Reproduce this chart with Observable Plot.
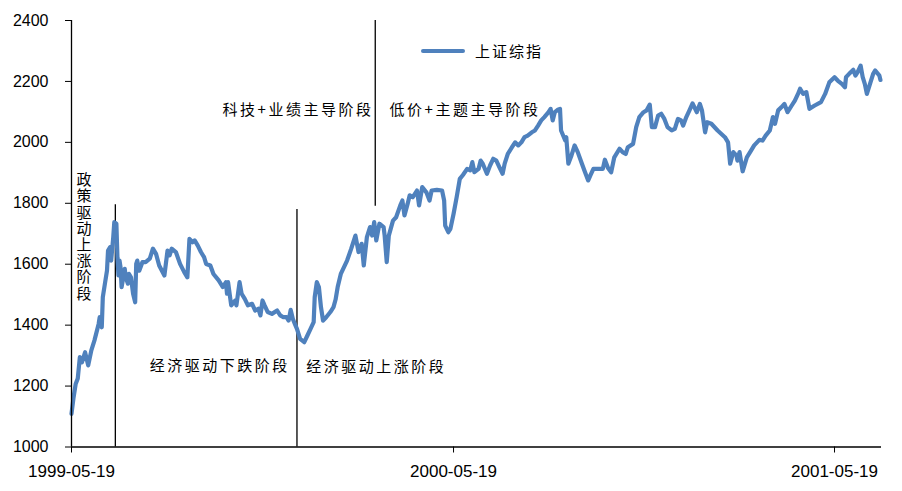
<!DOCTYPE html>
<html>
<head>
<meta charset="utf-8">
<script src="https://cdn.jsdelivr.net/npm/d3@7"></script>
<script src="https://cdn.jsdelivr.net/npm/@observablehq/plot@0.6"></script>
<style>
  html, body { margin: 0; padding: 0; background: #fff; }
  #wrap { position: relative; width: 902px; height: 491px; }
  #wrap svg { display: block; }
  g[aria-label^="x-axis"] text { font-size: 17px; }
  g[aria-label^="y-axis"] text { font-size: 16px; }
  g[aria-label="text"] text { letter-spacing: 2.5px; }
  g[aria-label="text"] text.vertical { writing-mode: vertical-rl; letter-spacing: 1.2px; }
  #legend { position: absolute; left: 421px; top: 40px; display: flex; align-items: center;
    font-family: "Noto Sans CJK SC", sans-serif; font-size: 15px; letter-spacing: 2px; color: #000; }
  #legend .sw { display: inline-block; width: 44px; height: 4px; border-radius: 2px; background: #4F81BD; margin-right: 10px; }
</style>
</head>
<body>
<div id="wrap"><div id="legend"><span class="sw"></span><span>上证综指</span></div></div>
<script>
const seriesName = "上证综指";
const dates = [
"1999-05-19","1999-05-21","1999-05-23","1999-05-25","1999-05-27","1999-05-29","1999-06-01","1999-06-04","1999-06-07","1999-06-10",
"1999-06-14","1999-06-15","1999-06-17","1999-06-18","1999-06-20","1999-06-22","1999-06-23","1999-06-25","1999-06-26","1999-06-28",
"1999-06-29","1999-07-01","1999-07-02","1999-07-03","1999-07-04","1999-07-05","1999-07-06","1999-07-09","1999-07-10","1999-07-12",
"1999-07-13","1999-07-15","1999-07-17","1999-07-19","1999-07-20","1999-07-21","1999-07-23","1999-07-26","1999-07-29","1999-08-02",
"1999-08-05","1999-08-08","1999-08-11","1999-08-16","1999-08-19","1999-08-21","1999-08-23","1999-08-27","1999-08-31","1999-09-04",
"1999-09-07","1999-09-09","1999-09-12","1999-09-14","1999-09-17","1999-09-20","1999-09-23","1999-09-25","1999-09-29","1999-10-02",
"1999-10-07","1999-10-11","1999-10-14","1999-10-15","1999-10-16","1999-10-19","1999-10-23","1999-10-24","1999-10-27","1999-10-29",
"1999-11-01","1999-11-04","1999-11-08","1999-11-11","1999-11-14","1999-11-16","1999-11-18","1999-11-20","1999-11-23","1999-11-27",
"1999-12-02","1999-12-05","1999-12-08","1999-12-11","1999-12-13","1999-12-15","1999-12-17","1999-12-19","1999-12-21","1999-12-24",
"1999-12-28","1999-12-31","2000-01-03","2000-01-06","2000-01-07","2000-01-09","2000-01-11","2000-01-13","2000-01-15","2000-01-18",
"2000-01-22","2000-01-25","2000-01-27","2000-01-29","2000-02-01","2000-02-07","2000-02-11","2000-02-15","2000-02-18","2000-02-21",
"2000-02-23","2000-02-26","2000-02-29","2000-03-02","2000-03-04","2000-03-06","2000-03-09","2000-03-13","2000-03-14","2000-03-16",
"2000-03-18","2000-03-22","2000-03-25","2000-03-29","2000-03-31","2000-04-02","2000-04-05","2000-04-07","2000-04-10","2000-04-14",
"2000-04-16","2000-04-19","2000-04-23","2000-04-26","2000-04-28","2000-05-03","2000-05-08","2000-05-10","2000-05-11","2000-05-14",
"2000-05-16","2000-05-19","2000-05-22","2000-05-25","2000-05-28","2000-06-01","2000-06-04","2000-06-06","2000-06-08","2000-06-12",
"2000-06-14","2000-06-16","2000-06-20","2000-06-23","2000-06-26","2000-06-29","2000-07-02","2000-07-05","2000-07-07","2000-07-10",
"2000-07-14","2000-07-17","2000-07-20","2000-07-23","2000-07-26","2000-07-29","2000-08-02","2000-08-05","2000-08-08","2000-08-11",
"2000-08-14","2000-08-18","2000-08-20","2000-08-22","2000-08-24","2000-08-27","2000-08-29","2000-08-30","2000-09-03","2000-09-04",
"2000-09-06","2000-09-09","2000-09-12","2000-09-15","2000-09-19","2000-09-22","2000-09-25","2000-09-27","2000-09-30","2000-10-05",
"2000-10-09","2000-10-11","2000-10-14","2000-10-17","2000-10-20","2000-10-25","2000-10-28","2000-10-31","2000-11-02","2000-11-07",
"2000-11-10","2000-11-13","2000-11-17","2000-11-20","2000-11-23","2000-11-25","2000-11-28","2000-12-01","2000-12-04","2000-12-07",
"2000-12-10","2000-12-14","2000-12-17","2000-12-20","2000-12-23","2000-12-25","2000-12-28","2000-12-31","2001-01-03","2001-01-07",
"2001-01-10","2001-01-12","2001-01-15","2001-01-17","2001-01-21","2001-01-27","2001-02-03","2001-02-06","2001-02-08","2001-02-11",
"2001-02-14","2001-02-15","2001-02-17","2001-02-20","2001-02-24","2001-02-28","2001-03-03","2001-03-08","2001-03-11","2001-03-14",
"2001-03-18","2001-03-21","2001-03-23","2001-03-26","2001-03-29","2001-04-01","2001-04-04","2001-04-08","2001-04-11","2001-04-14",
"2001-04-16","2001-04-19","2001-04-22","2001-04-25","2001-04-30","2001-05-06","2001-05-10","2001-05-14","2001-05-19","2001-05-22",
"2001-05-26","2001-05-29","2001-05-30","2001-06-02","2001-06-06","2001-06-08","2001-06-10","2001-06-13","2001-06-15","2001-06-17",
"2001-06-19","2001-06-22","2001-06-25","2001-06-27","2001-07-01","2001-07-02"
];
const values = [
1109,1163,1207,1225,1295,1278,1311,1268,1317,1350,
1404,1426,1393,1492,1536,1579,1645,1656,1612,1689,
1738,1733,1623,1563,1612,1590,1525,1585,1557,1536,
1568,1557,1503,1475,1601,1612,1579,1607,1607,1618,
1651,1634,1596,1563,1645,1629,1651,1640,1601,1574,
1557,1683,1672,1678,1661,1640,1623,1601,1596,1568,
1547,1525,1541,1503,1541,1465,1481,1465,1541,1503,
1486,1465,1470,1448,1454,1432,1481,1465,1443,1437,
1448,1432,1426,1426,1415,1450,1421,1404,1388,1355,
1344,1366,1388,1410,1492,1541,1525,1459,1415,1426,
1443,1459,1484,1525,1568,1612,1651,1694,1640,1667,
1596,1689,1722,1694,1738,1678,1733,1722,1694,1607,
1694,1743,1754,1793,1809,1760,1798,1826,1820,1842,
1793,1853,1836,1809,1842,1844,1842,1809,1727,1705,
1716,1765,1820,1880,1893,1913,1908,1935,1902,1913,
1940,1930,1897,1924,1946,1940,1918,1897,1930,1962,
1984,2000,1990,2000,2017,2022,2033,2039,2055,2072,
2083,2099,2110,2072,2099,2107,2110,2039,2006,2017,
1930,1957,1990,1968,1930,1902,1875,1891,1913,1913,
1913,1943,1916,1902,1951,1979,1968,1962,1984,1995,
2050,2083,2099,2105,2124,2050,2050,2088,2094,2077,
2050,2039,2044,2077,2072,2055,2083,2105,2128,2099,
2126,2105,2033,2066,2061,2039,2017,2000,1930,1968,
1957,1940,1968,1905,1951,1973,1990,2008,2006,2022,
2039,2083,2061,2105,2115,2126,2099,2121,2137,2159,
2176,2159,2165,2110,2121,2132,2159,2197,2214,2203,
2192,2181,2214,2225,2238,2219,2230,2252,2214,2192,
2159,2192,2225,2236,2219,2205
];
const yTicks = [1000, 1200, 1400, 1600, 1800, 2000, 2200, 2400];
const xTickLabels = ["1999-05-19", "2000-05-19", "2001-05-19"];
const xDomain = ["1999-05-19", "2001-07-03"];
const yDomain = [1000, 2400];

// phase divider lines
const dividerDates = ["1999-06-30", "1999-12-21", "2000-03-05"];
const dividerFrom = [1000, 1000, 1790];
const dividerTo = [1795, 1780, 2400];

// phase labels
const phaseLabels = ["科技+业绩主导阶段", "低价+主题主导阶段", "经济驱动下跌阶段", "经济驱动上涨阶段"];
const phaseDates = ["1999-12-22", "2000-05-30", "1999-10-08", "2000-03-06"];
const phaseValues = [2105, 2105, 1266, 1263];
const verticalLabel = "政策驱动上涨阶段";
const verticalDate = "1999-05-31";
const verticalValue = 1706;

const parse = d3.utcParse("%Y-%m-%d");
const series = dates.map((d, i) => ({date: parse(d), value: values[i]}));
const dividers = dividerDates.map((d, i) => ({date: parse(d), y1: dividerFrom[i], y2: dividerTo[i]}));
const phases = phaseLabels.map((t, i) => ({text: t, date: parse(phaseDates[i]), value: phaseValues[i]}));
const vert = [{text: verticalLabel, date: parse(verticalDate), value: verticalValue}];

const cjk = "'Noto Sans CJK SC', 'Noto Sans', sans-serif";
const chart = Plot.plot({
  width: 902,
  height: 491,
  marginLeft: 71,
  marginRight: 21,
  marginTop: 20,
  marginBottom: 44.5,
  style: {fontFamily: "'Liberation Sans', Arial, sans-serif", fontSize: "16px", color: "#000", background: "#fff", overflow: "visible"},
  x: {type: "utc", domain: xDomain.map(parse), ticks: xTickLabels.map(parse), tickFormat: d3.utcFormat("%Y-%m-%d"), tickSize: 6, tickPadding: 12, label: null},
  y: {domain: yDomain, ticks: yTicks, tickFormat: d => String(d), tickSize: 6, tickPadding: 17, label: null},
  marks: [
    Plot.ruleX(dividers, {x: "date", y1: "y1", y2: "y2", stroke: "#000", strokeWidth: 1.3}),
    Plot.line(series, {x: "date", y: "value", stroke: "#4F81BD", strokeWidth: 4.2, strokeLinejoin: "round", strokeLinecap: "round"}),
    Plot.ruleY([yDomain[0]], {stroke: "#000", strokeWidth: 1.3}),
    Plot.ruleX([parse(xDomain[0])], {y1: yDomain[0], y2: yDomain[1], stroke: "#000", strokeWidth: 1.3}),
    Plot.text(phases, {x: "date", y: "value", text: "text", fontFamily: cjk, fontSize: 15, fill: "#000", textAnchor: "middle"}),
    Plot.text(vert, {x: "date", y: "value", text: "text", fontFamily: cjk, fontSize: 15, fill: "#000", textAnchor: "middle"})
  ]
});
// render the policy-phase label as vertical (top-to-bottom) text
d3.select(chart).selectAll("text")
  .filter(function() { return this.textContent === verticalLabel; })
  .classed("vertical", true)
  .attr("dy", null)
  .each(function() { d3.select(this).selectAll("tspan").attr("dy", null); });
document.getElementById("wrap").prepend(chart);
</script>
</body>
</html>
